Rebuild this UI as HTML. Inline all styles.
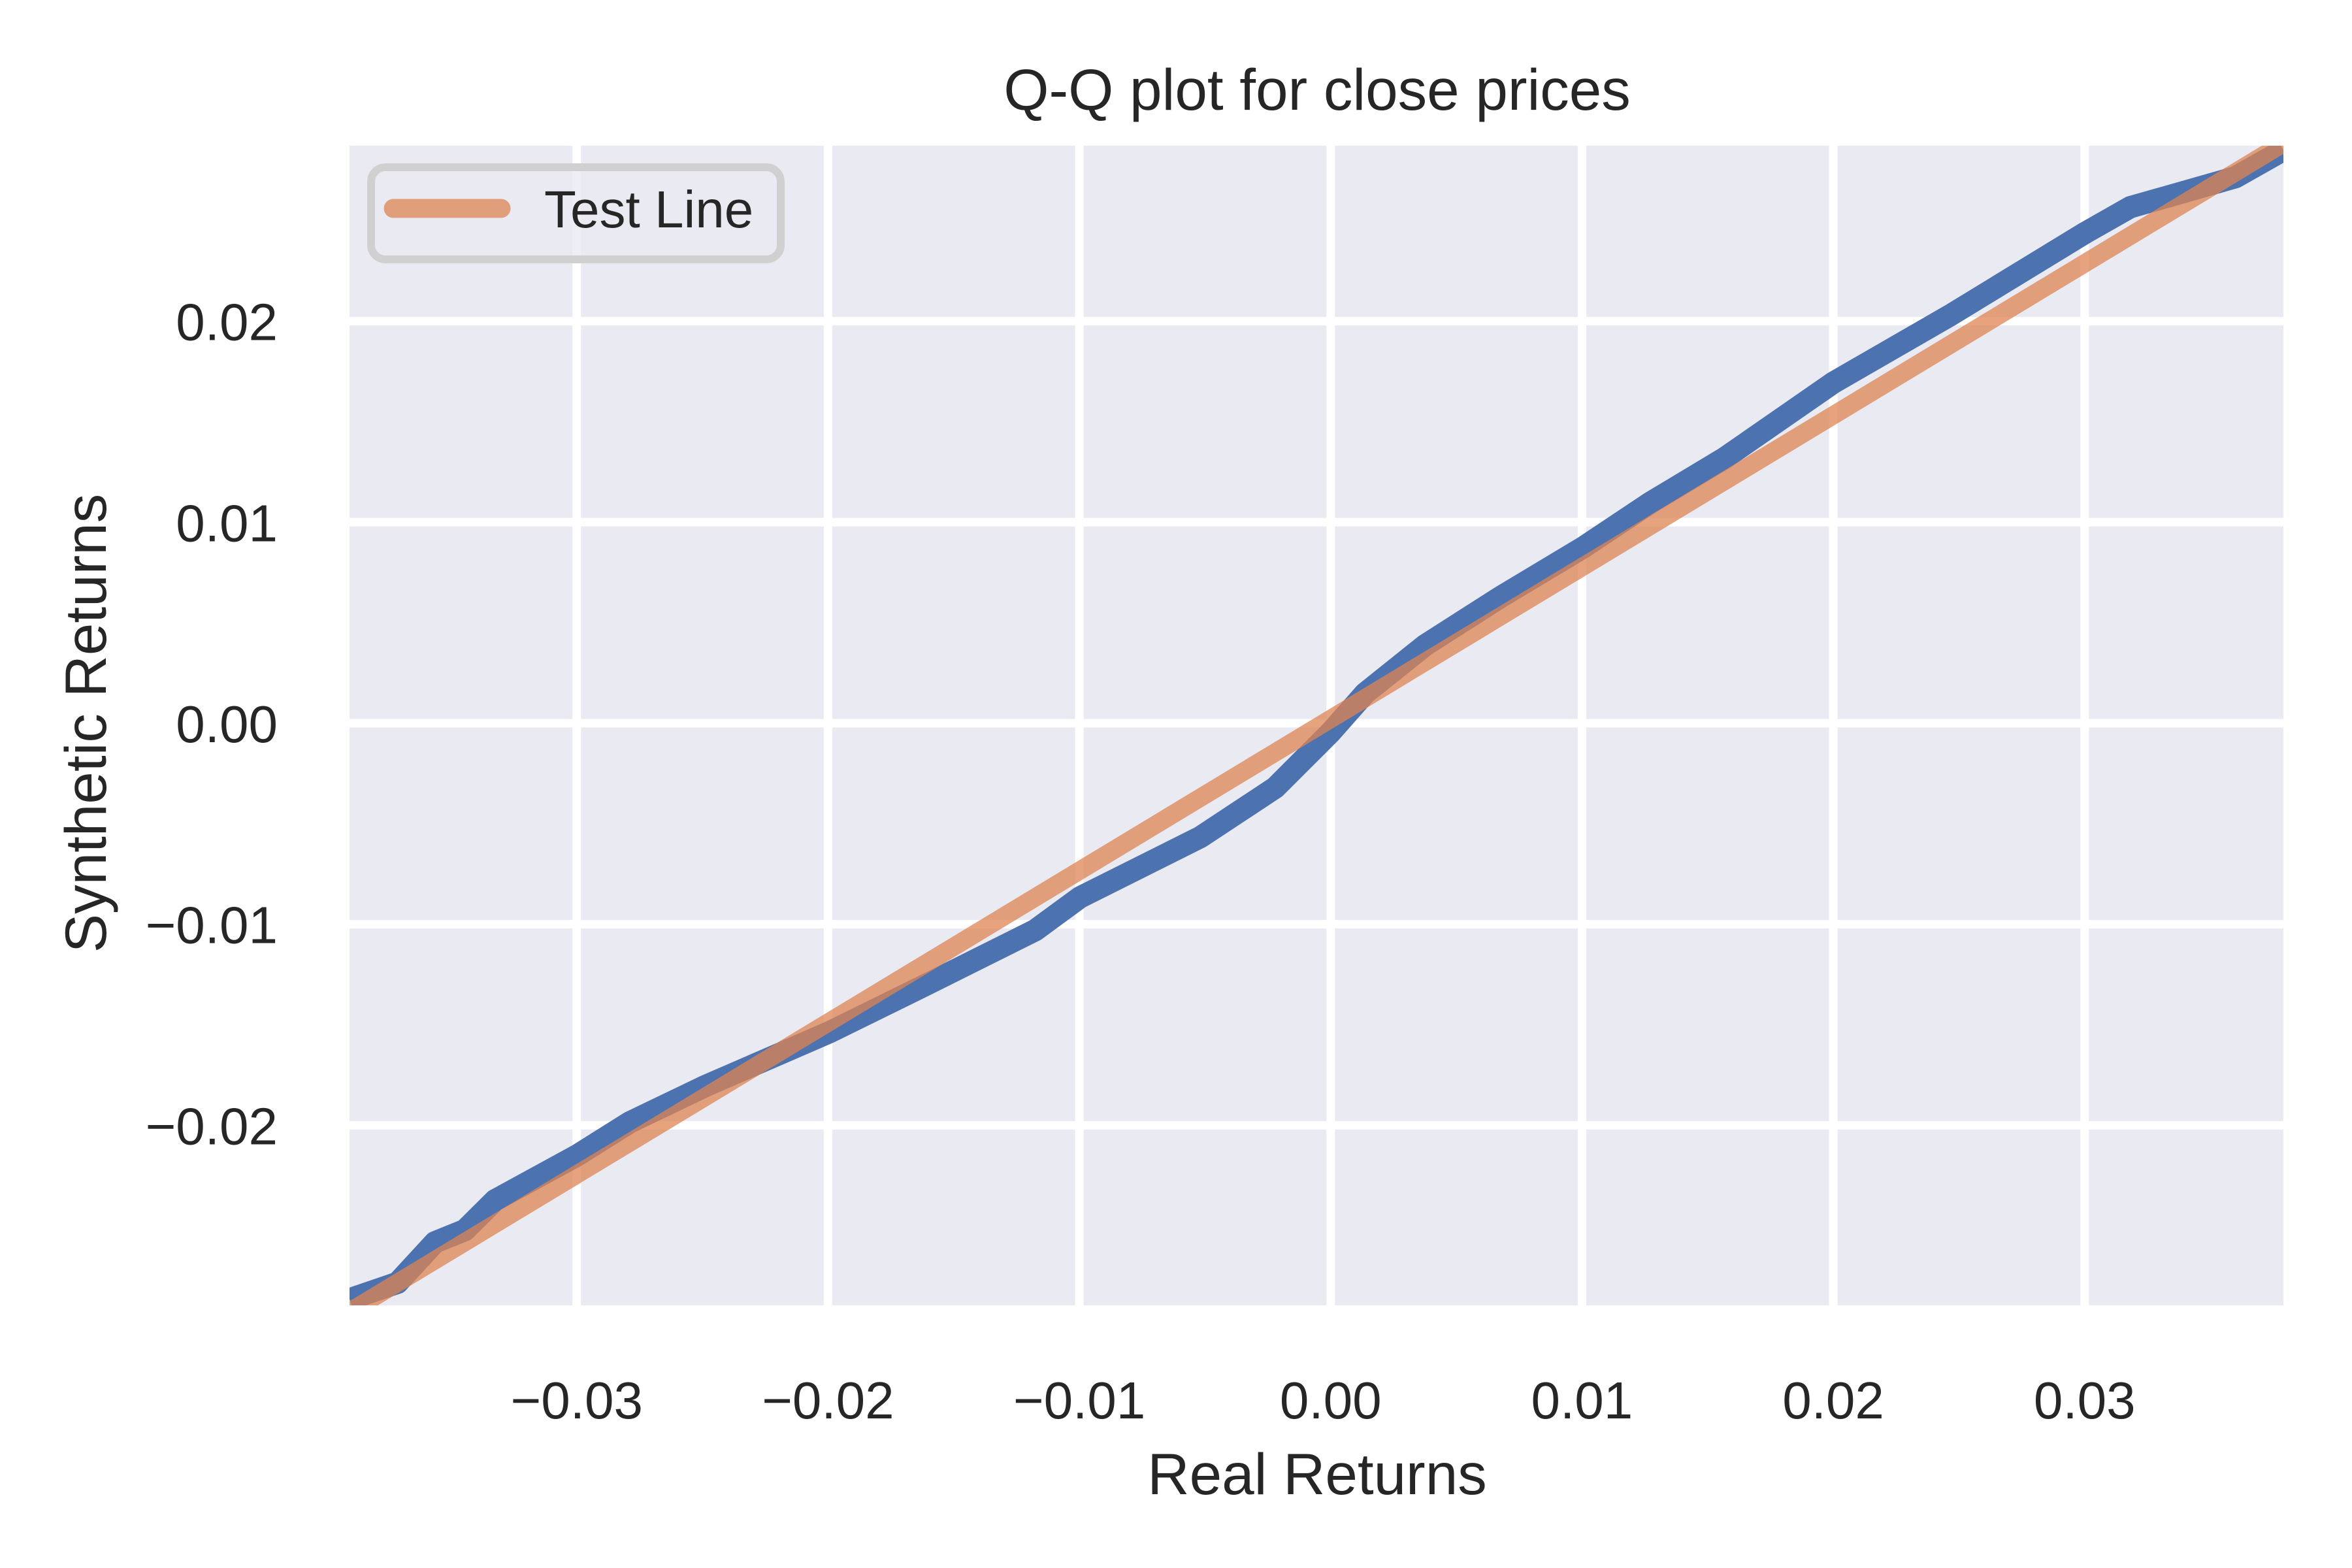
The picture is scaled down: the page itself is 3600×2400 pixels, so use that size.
<!DOCTYPE html>
<html><head><meta charset="utf-8"><style>
html,body{margin:0;padding:0;background:#fff;}
svg{display:block;font-family:"Liberation Sans",sans-serif;}
</style></head><body>
<svg id="chart" width="3600" height="2400" viewBox="0 0 3600 2400" xmlns="http://www.w3.org/2000/svg">
<defs><clipPath id="clip"><rect x="535" y="223" width="2960" height="1775"/></clipPath></defs>
<rect x="535" y="223" width="2960" height="1775" fill="#eaeaf2"/>
<g id="grid"></g>
<g id="series" clip-path="url(#clip)"></g>
<g id="ticks" fill="#262626" font-size="80"></g>
<text x="2016" y="168" text-anchor="middle" font-size="89" fill="#262626">Q-Q plot for close prices</text>
<text x="2016" y="2287" text-anchor="middle" font-size="89" fill="#262626">Real Returns</text>
<text x="0" y="0" transform="translate(162,1107) rotate(-90)" text-anchor="middle" font-size="89" fill="#262626">Synthetic Returns</text>
<g>
<rect x="568" y="256" width="627" height="141" rx="22" fill="#eaeaf2" fill-opacity="0.8" stroke="#d0d0d0" stroke-width="12"/>
<line x1="602" y1="319" x2="767" y2="319" stroke="#dd8452" stroke-opacity="0.75" stroke-width="29" stroke-linecap="round"/>
<text x="833" y="348" font-size="80" fill="#262626">Test Line</text>
</g>
</svg>
<script>
const xTicks = [-0.03, -0.02, -0.01, 0.00, 0.01, 0.02, 0.03];
const xTickLabels = ["\u22120.03", "\u22120.02", "\u22120.01", "0.00", "0.01", "0.02", "0.03"];
const yTicks = [-0.02, -0.01, 0.00, 0.01, 0.02];
const yTickLabels = ["\u22120.02", "\u22120.01", "0.00", "0.01", "0.02"];
const realReturns = [-0.03904,-0.03713,-0.03564,-0.03445,-0.03325,-0.02997,-0.02788,-0.02490,-0.01994,-0.01594,-0.01176,-0.00997,-0.00519,-0.00221,0.0,0.00137,0.00376,0.00675,0.01003,0.01272,0.01570,0.02000,0.02466,0.03003,0.03182,0.03600,0.03791];
const syntheticReturns = [-0.02866,-0.02784,-0.02582,-0.02522,-0.02373,-0.02149,-0.01985,-0.01806,-0.01537,-0.01291,-0.01030,-0.00866,-0.00567,-0.00321,-0.00045,0.00149,0.00388,0.00627,0.00873,0.01097,0.01321,0.01694,0.02030,0.02440,0.02567,0.02716,0.02851];
const testLineX = [-0.03904, 0.03791];
const testLineY = [-0.02928, 0.02885];
const xDomain = [-0.03904, 0.03791];
const yDomain = [-0.02896, 0.02873];

const L=535,R=3495,T=223,B=1998;
const sx = v => L + (v - xDomain[0]) / (xDomain[1]-xDomain[0]) * (R-L);
const sy = v => B - (v - yDomain[0]) / (yDomain[1]-yDomain[0]) * (B-T);
const NS="http://www.w3.org/2000/svg";
const grid=document.getElementById('grid'), ticks=document.getElementById('ticks'), series=document.getElementById('series');
xTicks.forEach((t,i)=>{
  const l=document.createElementNS(NS,'line');
  
  
  l.setAttribute('x1',sx(t));l.setAttribute('x2',sx(t));l.setAttribute('y1',T);l.setAttribute('y2',B);
  l.setAttribute('stroke','#fff');l.setAttribute('stroke-width','13');
  grid.appendChild(l);
  const tx=document.createElementNS(NS,'text');
  
  
  tx.setAttribute('x',sx(t));tx.setAttribute('y',2171);tx.setAttribute('text-anchor','middle');
  tx.textContent=xTickLabels[i];
  ticks.appendChild(tx);
});
yTicks.forEach((t,i)=>{
  const l=document.createElementNS(NS,'line');
  
  
  l.setAttribute('y1',sy(t));l.setAttribute('y2',sy(t));l.setAttribute('x1',L);l.setAttribute('x2',R);
  l.setAttribute('stroke','#fff');l.setAttribute('stroke-width','13');
  grid.appendChild(l);
  const tx=document.createElementNS(NS,'text');
  
  
  tx.setAttribute('x',425);tx.setAttribute('y',sy(t)+29);tx.setAttribute('text-anchor','end');
  tx.textContent=yTickLabels[i];
  ticks.appendChild(tx);
});
const qq=document.createElementNS(NS,'polyline');


qq.setAttribute('points',realReturns.map((x,i)=>sx(x)+','+sy(syntheticReturns[i])).join(' '));
qq.setAttribute('fill','none');qq.setAttribute('stroke','#4c72b0');qq.setAttribute('stroke-width','34');qq.setAttribute('stroke-linejoin','round');
series.appendChild(qq);
const tl=document.createElementNS(NS,'polyline');


tl.setAttribute('points',testLineX.map((x,i)=>sx(x)+','+sy(testLineY[i])).join(' '));
tl.setAttribute('fill','none');tl.setAttribute('stroke','#dd8452');tl.setAttribute('stroke-opacity','0.75');tl.setAttribute('stroke-width','28');
series.appendChild(tl);
</script>
</body></html>
